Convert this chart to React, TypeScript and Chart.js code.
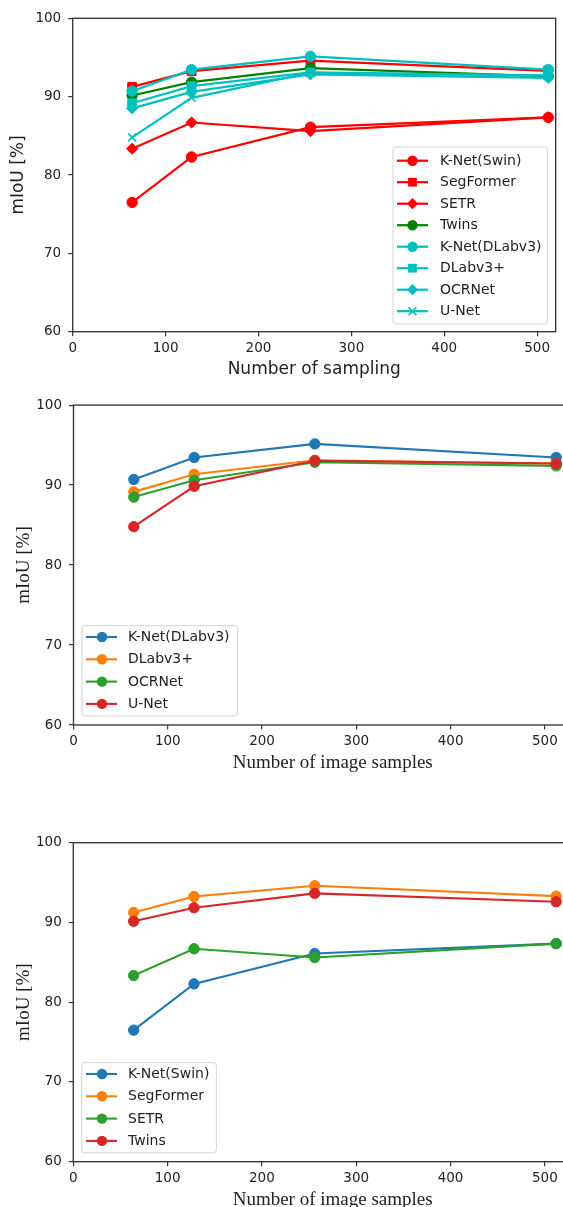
import React, { useEffect, useRef } from 'react';
import { Chart, registerables } from 'chart.js';

Chart.register(...registerables);

// ---------- data ----------
const X_SAMPLES = [64, 128, 256, 512];

const KNET_SWIN = [76.5, 82.3, 86.1, 87.35];
const SEGFORMER = [91.25, 93.25, 94.6, 93.3];
const SETR = [83.35, 86.7, 85.6, 87.35];
const TWINS = [90.15, 91.85, 93.65, 92.6];

const KNET_DLABV3 = [90.7, 93.45, 95.15, 93.45];
const DLABV3P = [89.15, 91.35, 93.1, 92.7];
const OCRNET = [88.5, 90.6, 92.85, 92.4];
const UNET = [84.8, 89.85, 93.05, 92.7];

const Y_MIN = 60;
const Y_MAX = 100;
const Y_STEP = 10;
const X_STEP = 100;

const TITLE_TOP = 'Number of sampling';
const TITLE_BOTTOM = 'Number of image samples';
const Y_TITLE = 'mIoU [%]';

// ---------- styling ----------
const C_RED = '#ff0000';
const C_GREEN = '#008000';
const C_CYAN = '#00bfbf';
const T_BLUE = '#1f77b4';
const T_ORANGE = '#ff7f0e';
const T_GREEN = '#2ca02c';
const T_RED = '#d62728';

const SPINE = '#3a3a3a';
const TEXT = '#222222';

type SeriesDef = { label: string; values: number[]; color: string; style: string; radius: number };

function drawMarker(ctx: CanvasRenderingContext2D, style: string, x: number, y: number, r: number, color: string) {
  ctx.save();
  ctx.fillStyle = color;
  ctx.strokeStyle = color;
  ctx.beginPath();
  if (style === 'circle') {
    ctx.arc(x, y, r, 0, Math.PI * 2);
    ctx.fill();
  } else if (style === 'rect') {
    const s = r * Math.SQRT1_2;
    ctx.fillRect(x - s, y - s, 2 * s, 2 * s);
  } else if (style === 'rectRot') {
    ctx.moveTo(x, y - r);
    ctx.lineTo(x + r, y);
    ctx.lineTo(x, y + r);
    ctx.lineTo(x - r, y);
    ctx.closePath();
    ctx.fill();
  } else if (style === 'crossRot') {
    const s = r * Math.SQRT1_2;
    ctx.lineWidth = 1.6;
    ctx.moveTo(x - s, y - s);
    ctx.lineTo(x + s, y + s);
    ctx.moveTo(x + s, y - s);
    ctx.lineTo(x - s, y + s);
    ctx.stroke();
  }
  ctx.restore();
}

const spinePlugin = {
  id: 'spines',
  afterDatasetsDraw(chart: any) {
    const { ctx, chartArea: a } = chart;
    ctx.save();
    ctx.strokeStyle = SPINE;
    ctx.lineWidth = 1.4;
    ctx.strokeRect(a.left, a.top, a.right - a.left, a.bottom - a.top);
    ctx.restore();
  },
};

const legendPlugin = {
  id: 'innerLegend',
  afterDraw(chart: any, _args: any, o: any) {
    const ctx: CanvasRenderingContext2D = chart.ctx;
    const ds = chart.data.datasets;
    const n = ds.length;
    ctx.save();
    ctx.font = `${o.fontSize}px "DejaVu Sans"`;
    let maxW = 0;
    ds.forEach((d: any) => {
      maxW = Math.max(maxW, ctx.measureText(d.label).width);
    });
    const w = o.textX - o.left + maxW + o.padRight;
    const h = o.padTop + o.rowGap * (n - 1) + o.padBottom;
    const x0 = o.left;
    const y0 = o.top;
    const r = 3;
    ctx.beginPath();
    ctx.moveTo(x0 + r, y0);
    ctx.lineTo(x0 + w - r, y0);
    ctx.arcTo(x0 + w, y0, x0 + w, y0 + r, r);
    ctx.lineTo(x0 + w, y0 + h - r);
    ctx.arcTo(x0 + w, y0 + h, x0 + w - r, y0 + h, r);
    ctx.lineTo(x0 + r, y0 + h);
    ctx.arcTo(x0, y0 + h, x0, y0 + h - r, r);
    ctx.lineTo(x0, y0 + r);
    ctx.arcTo(x0, y0, x0 + r, y0, r);
    ctx.closePath();
    ctx.fillStyle = 'rgba(255,255,255,0.85)';
    ctx.fill();
    ctx.strokeStyle = '#d4d4d4';
    ctx.lineWidth = 1;
    ctx.stroke();

    ds.forEach((d: any, i: number) => {
      const y = y0 + o.padTop + i * o.rowGap;
      ctx.beginPath();
      ctx.strokeStyle = d.borderColor;
      ctx.lineWidth = d.borderWidth;
      ctx.moveTo(o.lineX0, y);
      ctx.lineTo(o.lineX1, y);
      ctx.stroke();
      drawMarker(ctx, d.pointStyle, o.markerX, y, d.pointRadius, d.borderColor);
      ctx.fillStyle = TEXT;
      ctx.textBaseline = 'middle';
      ctx.textAlign = 'left';
      ctx.fillText(d.label, o.textX, y + 0.5);
    });
    ctx.restore();
  },
};

type PanelOpts = {
  series: SeriesDef[];
  width: number;
  height: number;
  xMax: number;
  areaLeft: number;
  padTop: number;
  padRight: number;
  xAxisHeight: number;
  titleFont: string;
  titleSize: number;
  xTitle: string;
  xTitlePadBottom: number;
  yTitlePadTop: number;
  lineWidth: number;
  legend: any;
};

function makeConfig(p: PanelOpts): any {
  const n = p.series.length;
  return {
    type: 'line',
    data: {
      datasets: p.series.map((s, i) => ({
        label: s.label,
        data: X_SAMPLES.map((x, j) => ({ x, y: s.values[j] })),
        borderColor: s.color,
        backgroundColor: s.color,
        pointBackgroundColor: s.color,
        pointBorderColor: s.color,
        pointBorderWidth: s.style === 'crossRot' ? 1.6 : 1,
        pointStyle: s.style,
        pointRadius: s.radius,
        borderWidth: p.lineWidth,
        tension: 0,
        fill: false,
        order: n - i,
      })),
    },
    options: {
      animation: false,
      responsive: false,
      devicePixelRatio: 1,
      events: [],
      layout: { padding: { top: p.padTop, right: p.padRight, left: 0, bottom: 0 } },
      plugins: {
        legend: { display: false },
        tooltip: { enabled: false },
        innerLegend: p.legend,
      },
      scales: {
        x: {
          type: 'linear',
          min: 0,
          max: p.xMax,
          afterFit: (s: any) => {
            s.height = p.xAxisHeight;
          },
          ticks: {
            stepSize: X_STEP,
            includeBounds: false,
            autoSkip: false,
            maxRotation: 0,
            padding: 3.9,
            color: TEXT,
            font: { family: 'DejaVu Sans', size: 13.5 },
          },
          grid: { drawOnChartArea: false, drawTicks: true, tickLength: 4.5, color: SPINE, lineWidth: 1.2 },
          border: { display: false },
          title: {
            display: true,
            text: p.xTitle,
            color: TEXT,
            font: { family: p.titleFont, size: p.titleSize },
            padding: { top: 0, bottom: p.xTitlePadBottom },
          },
        },
        y: {
          type: 'linear',
          min: Y_MIN,
          max: Y_MAX,
          afterFit: (s: any) => {
            s.width = p.areaLeft;
          },
          ticks: {
            stepSize: Y_STEP,
            autoSkip: false,
            padding: 7,
            color: TEXT,
            font: { family: 'DejaVu Sans', size: 13.5 },
          },
          grid: { drawOnChartArea: false, drawTicks: true, tickLength: 4.5, color: SPINE, lineWidth: 1.2 },
          border: { display: false },
          title: {
            display: true,
            text: Y_TITLE,
            color: TEXT,
            font: { family: p.titleFont, size: p.titleSize },
            padding: { top: p.yTitlePadTop, bottom: 0 },
          },
        },
      },
    },
    plugins: [spinePlugin, legendPlugin],
  };
}

function Panel({ opts, top }: { opts: PanelOpts; top: number }) {
  const ref = useRef<HTMLCanvasElement | null>(null);
  useEffect(() => {
    if (!ref.current) return;
    const chart = new Chart(ref.current, makeConfig(opts));
    return () => chart.destroy();
  }, []);
  return (
    <canvas
      ref={ref}
      width={opts.width}
      height={opts.height}
      style={{ position: 'absolute', left: 0, top, width: opts.width, height: opts.height }}
    />
  );
}

const panel1: PanelOpts = {
  series: [
    { label: 'K-Net(Swin)', values: KNET_SWIN, color: C_RED, style: 'circle', radius: 5.2 },
    { label: 'SegFormer', values: SEGFORMER, color: C_RED, style: 'rect', radius: 6.2 },
    { label: 'SETR', values: SETR, color: C_RED, style: 'rectRot', radius: 5.6 },
    { label: 'Twins', values: TWINS, color: C_GREEN, style: 'circle', radius: 5.2 },
    { label: 'K-Net(DLabv3)', values: KNET_DLABV3, color: C_CYAN, style: 'circle', radius: 5.2 },
    { label: 'DLabv3+', values: DLABV3P, color: C_CYAN, style: 'rect', radius: 6.2 },
    { label: 'OCRNet', values: OCRNET, color: C_CYAN, style: 'rectRot', radius: 5.6 },
    { label: 'U-Net', values: UNET, color: C_CYAN, style: 'crossRot', radius: 5.6 },
  ],
  width: 563,
  height: 390,
  xMax: 520,
  areaLeft: 72.7,
  padTop: 18.3,
  padRight: 7.3,
  xAxisHeight: 58.3,
  titleFont: 'DejaVu Sans',
  titleSize: 17,
  xTitle: TITLE_TOP,
  xTitlePadBottom: 9.8,
  yTitlePadTop: 8.8,
  lineWidth: 2.2,
  legend: {
    left: 393,
    top: 147,
    padTop: 13.7,
    rowGap: 21.5,
    padBottom: 12.8,
    padRight: 6,
    lineX0: 397,
    lineX1: 428,
    markerX: 412.5,
    textX: 440,
    fontSize: 14,
  },
};

const panel2: PanelOpts = {
  series: [
    { label: 'K-Net(DLabv3)', values: KNET_DLABV3, color: T_BLUE, style: 'circle', radius: 5.2 },
    { label: 'DLabv3+', values: DLABV3P, color: T_ORANGE, style: 'circle', radius: 5.2 },
    { label: 'OCRNet', values: OCRNET, color: T_GREEN, style: 'circle', radius: 5.2 },
    { label: 'U-Net', values: UNET, color: T_RED, style: 'circle', radius: 5.2 },
  ],
  width: 600,
  height: 400,
  xMax: 550,
  areaLeft: 73.5,
  padTop: 15,
  padRight: 8,
  xAxisHeight: 65,
  titleFont: '"Liberation Serif"',
  titleSize: 19,
  xTitle: TITLE_BOTTOM,
  xTitlePadBottom: 15.6,
  yTitlePadTop: 12.6,
  lineWidth: 2.1,
  legend: {
    left: 82,
    top: 235.7,
    padTop: 11.3,
    rowGap: 22.3,
    padBottom: 12,
    padRight: 8,
    lineX0: 86,
    lineX1: 117,
    markerX: 102,
    textX: 128,
    fontSize: 14,
  },
};

const panel3: PanelOpts = {
  series: [
    { label: 'K-Net(Swin)', values: KNET_SWIN, color: T_BLUE, style: 'circle', radius: 5.2 },
    { label: 'SegFormer', values: SEGFORMER, color: T_ORANGE, style: 'circle', radius: 5.2 },
    { label: 'SETR', values: SETR, color: T_GREEN, style: 'circle', radius: 5.2 },
    { label: 'Twins', values: TWINS, color: T_RED, style: 'circle', radius: 5.2 },
  ],
  width: 600,
  height: 440,
  xMax: 550,
  areaLeft: 73.3,
  padTop: 42.7,
  padRight: 8,
  xAxisHeight: 78.3,
  titleFont: '"Liberation Serif"',
  titleSize: 19,
  xTitle: TITLE_BOTTOM,
  xTitlePadBottom: 28.6,
  yTitlePadTop: 12.6,
  lineWidth: 2.1,
  legend: {
    left: 81.7,
    top: 262.7,
    padTop: 11.3,
    rowGap: 22.3,
    padBottom: 12,
    padRight: 7,
    lineX0: 86,
    lineX1: 117,
    markerX: 102,
    textX: 128,
    fontSize: 14,
  },
};

export default function App() {
  return (
    <div
      style={{
        position: 'absolute',
        left: 0,
        top: 0,
        width: 563,
        height: 1207,
        overflow: 'hidden',
        background: '#ffffff',
      }}
    >
      <Panel opts={panel1} top={0} />
      <Panel opts={panel2} top={390} />
      <Panel opts={panel3} top={800} />
    </div>
  );
}
